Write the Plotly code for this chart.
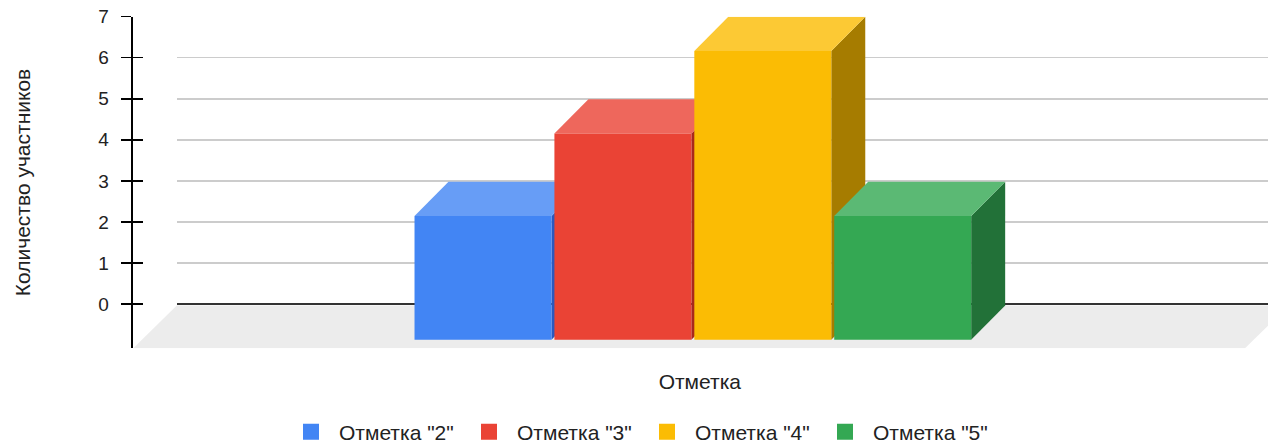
import plotly.graph_objects as go

# ---------------- data ----------------
categories = ['Отметка "2"', 'Отметка "3"', 'Отметка "4"', 'Отметка "5"']
values = [2, 4, 6, 2]
tick_vals = [0, 1, 2, 3, 4, 5, 6, 7]
tick_text = ["0", "1", "2", "3", "4", "5", "6", "7"]
x_title = "Отметка"
y_title = "Количество участников"

front_colors = ["#4285f4", "#ea4335", "#fbbc04", "#34a853"]
top_colors = ["#679df6", "#ee675c", "#fcc934", "#5bb974"]
side_colors = ["#2b59bf", "#a8291d", "#a67c00", "#227138"]

# ---------------- geometry (layout constants) ----------------
W, H = 1268, 446
AX_TOP_PX, AX_BOT_PX = 16.7, 348.3          # vertical extent of the axes
AXIS_X_PX = 131.7                            # y-axis line position
WALL_LEFT_PX = 176.7                         # back wall left edge
Y_BACK_RANGE = [-1.08, 7]                    # back-wall (tick) scale
Y_FRONT_RANGE = [-1.2073, 6.8315]            # front-plane scale used by bars
X_RANGE = [-2.5111, 5.6112]                  # category-index scale
BAR_W = 0.979
DEPTH_X = 0.243
DEPTH_Y = 0.832
BAR_BASE = -1.0
FLOOR = dict(front_left=-2.5, front_right=5.447, back_left=-2.189,
             back_right=5.757, back_y=-0.17, front_y=Y_FRONT_RANGE[0])
FLOOR_COLOR = "#ececec"

dom_y = [(H - AX_BOT_PX) / H, (H - AX_TOP_PX) / H]

fig = go.Figure()

# dummy traces so the back-wall axes exist
fig.add_trace(go.Scatter(x=[None], y=[None], xaxis="x", yaxis="y",
                         showlegend=False, hoverinfo="skip"))
fig.add_trace(go.Scatter(x=[None], y=[None], xaxis="x", yaxis="y3",
                         showlegend=False, hoverinfo="skip"))

# floor
fig.add_trace(go.Scatter(
    x=[FLOOR["front_left"], FLOOR["front_right"], FLOOR["back_right"], FLOOR["back_left"], FLOOR["front_left"]],
    y=[FLOOR["front_y"], FLOOR["front_y"], FLOOR["back_y"], FLOOR["back_y"], FLOOR["front_y"]],
    xaxis="x2", yaxis="y2", mode="lines", fill="toself", fillcolor=FLOOR_COLOR,
    line=dict(width=0), showlegend=False, hoverinfo="skip"))

# 3D bars
for i, (name, v) in enumerate(zip(categories, values)):
    x0, x1 = i - BAR_W / 2, i + BAR_W / 2
    b = BAR_BASE
    side = dict(x=[x1, x1 + DEPTH_X, x1 + DEPTH_X, x1, x1],
                y=[b, b + DEPTH_Y, v + DEPTH_Y, v, b], c=side_colors[i])
    top = dict(x=[x0, x0 + DEPTH_X, x1 + DEPTH_X, x1, x0],
               y=[v, v + DEPTH_Y, v + DEPTH_Y, v, v], c=top_colors[i])
    front = dict(x=[x0, x1, x1, x0, x0], y=[b, b, v, v, b], c=front_colors[i])
    for poly in (side, top, front):
        fig.add_trace(go.Scatter(
            x=poly["x"], y=poly["y"], xaxis="x2", yaxis="y2",
            mode="lines", fill="toself", fillcolor=poly["c"],
            line=dict(width=0, color=poly["c"]), showlegend=False,
            hoverinfo="skip"))

# legend entries
for name, c in zip(categories, front_colors):
    fig.add_trace(go.Scatter(
        x=[None], y=[None], xaxis="x2", yaxis="y2", mode="markers", name=name,
        marker=dict(symbol="square", size=16, color=c)))

font_family = "Liberation Sans, Arial, sans-serif"

fig.update_layout(
    width=W, height=H,
    margin=dict(l=0, r=0, t=0, b=0, pad=0, autoexpand=False),
    paper_bgcolor="white",
    plot_bgcolor="rgba(0,0,0,0)",
    font=dict(family=font_family, color="#222222", size=21),
    xaxis=dict(domain=[WALL_LEFT_PX / W, 1], range=[0, 1], visible=False,
               anchor="y", automargin=False),
    yaxis=dict(domain=dom_y, range=Y_BACK_RANGE, anchor="free",
               position=AXIS_X_PX / W, automargin=False,
               tickvals=tick_vals, ticktext=tick_text,
               showline=True, linecolor="#000000", linewidth=2,
               ticks="outside", ticklen=10, tickwidth=1.5, tickcolor="#000000",
               ticklabelstandoff=8,
               showgrid=True, gridcolor="#cccccc", gridwidth=1.5,
               zeroline=True, zerolinecolor="#333333", zerolinewidth=1.5,
               tickfont=dict(size=19, color="#222222"),
               title=dict(text=y_title, standoff=61,
                          font=dict(size=21, color="#222222"))),
    yaxis3=dict(overlaying="y", anchor="free", position=AXIS_X_PX / W,
                range=Y_BACK_RANGE, tickvals=tick_vals, automargin=False,
                ticks="inside", ticklen=10, tickwidth=1.5, tickcolor="#000000",
                showticklabels=False, showgrid=False, zeroline=False,
                showline=False),
    xaxis2=dict(domain=[AXIS_X_PX / W, 1], range=X_RANGE, anchor="y2",
                automargin=False,
                showgrid=False, zeroline=False, showline=False,
                showticklabels=False, ticks="",
                title=dict(text=x_title, standoff=25,
                           font=dict(size=21, color="#222222"))),
    yaxis2=dict(domain=dom_y, range=Y_FRONT_RANGE, anchor="x2",
                automargin=False,
                showgrid=False, zeroline=False, showline=False,
                showticklabels=False, ticks=""),
    legend=dict(orientation="h", x=283 / W, xanchor="left",
                y=(H - 432) / H, yanchor="middle",
                font=dict(size=21, color="#222222"),
                itemwidth=46, entrywidth=117, bgcolor="rgba(0,0,0,0)"),
    showlegend=True,
)

fig.write_html("out.html",
               config={"displayModeBar": False, "staticPlot": True},
               post_script="document.body.style.margin='0';"
                           "document.body.style.overflow='hidden';")
